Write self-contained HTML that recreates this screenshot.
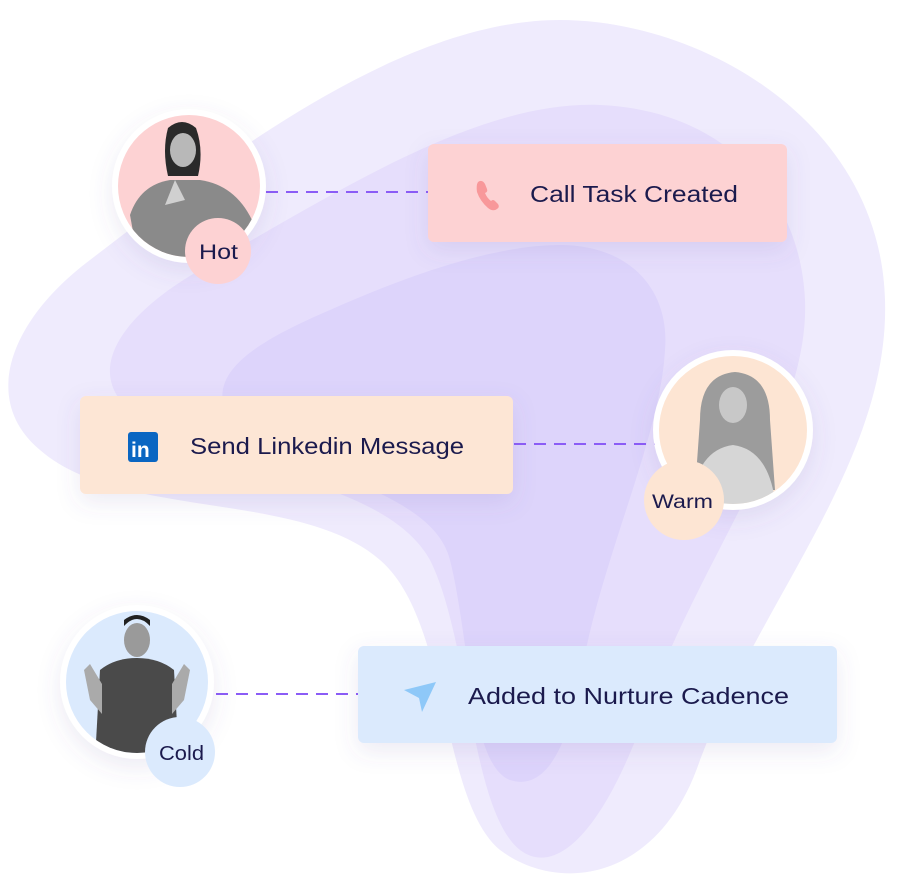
<!DOCTYPE html>
<html><head><meta charset="utf-8"><style>
html,body{margin:0;padding:0;background:#fff;width:918px;height:890px;overflow:hidden}
svg{display:block}
text{font-family:"Liberation Sans",sans-serif}
</style></head><body>
<svg width="918" height="890" viewBox="0 0 918 890" xmlns="http://www.w3.org/2000/svg">
<defs>
<filter id="sh" x="-30%" y="-50%" width="160%" height="200%"><feDropShadow dx="0" dy="8" stdDeviation="12" flood-color="#6a5aa0" flood-opacity="0.12"/></filter>
<clipPath id="c1"><circle cx="189" cy="186" r="71"/></clipPath>
<clipPath id="c2"><circle cx="733" cy="430" r="74"/></clipPath>
<clipPath id="c3"><circle cx="137" cy="682" r="71"/></clipPath>
</defs>
<path d="M560 20 C700 20 880 120 885 300 C890 460 760 600 700 760 C660 880 560 895 500 850 C440 800 450 620 380 560 C300 490 120 520 40 450 C-20 400 10 320 90 260 C220 160 400 20 560 20 Z" fill="#efebfd"/>
<path d="M600 105 C720 110 800 190 805 300 C810 420 700 560 650 700 C610 820 560 880 520 850 C470 810 470 640 430 560 C380 470 180 470 120 400 C90 360 130 310 200 270 C340 190 480 100 600 105 Z" fill="#e6defc"/>
<path d="M560 245 C630 245 670 290 665 350 C660 440 600 560 580 680 C565 760 540 790 510 780 C470 765 470 640 450 560 C430 480 260 470 225 410 C210 370 260 340 330 310 C420 270 500 245 560 245 Z" fill="#ddd4fb"/>
<g stroke="#8b5cf6" stroke-width="2" stroke-dasharray="12 8">
<line x1="266" y1="192" x2="428" y2="192"/>
<line x1="514" y1="444" x2="655" y2="444"/>
<line x1="216" y1="694" x2="358" y2="694"/>
</g>
<rect x="428" y="144" width="359" height="98" rx="6" fill="#fdd2d3" filter="url(#sh)"/>
<rect x="80" y="396" width="433" height="98" rx="6" fill="#fde6d5" filter="url(#sh)"/>
<rect x="358" y="646" width="479" height="97" rx="6" fill="#dbeafd" filter="url(#sh)"/>
<text x="530" y="202" font-size="23" fill="#1b1a4d" textLength="208" lengthAdjust="spacingAndGlyphs">Call Task Created</text>
<text x="190" y="454" font-size="23" fill="#1b1a4d" textLength="274" lengthAdjust="spacingAndGlyphs">Send Linkedin Message</text>
<text x="468" y="704" font-size="23" fill="#1b1a4d" textLength="321" lengthAdjust="spacingAndGlyphs">Added to Nurture Cadence</text>
<path d="M478 182 q4 -3 7 2 l2 5 q1 3 -2 4 q2 5 6 8 q2 -2 4 0 l3 3 q2 3 -1 5 q-4 3 -9 -1 q-8 -7 -11 -16 q-1 -7 1 -10z" fill="#f8989a"/>
<rect x="128" y="432" width="30" height="30" rx="3" fill="#0a66c2"/>
<text x="131" y="457" font-size="21" font-weight="bold" fill="#fff">in</text>
<path d="M404 690 L436 682 L422 712 L419 698 Z" fill="#8ec8f8"/>
<circle cx="189" cy="186" r="77" fill="#fff" filter="url(#sh)"/>
<circle cx="189" cy="186" r="71" fill="#fdd2d3"/>
<g clip-path="url(#c1)">
<path d="M168 128 q14 -12 28 0 q8 22 2 48 l-30 0 q-6 -26 0 -48z" fill="#2a2a2a"/>
<ellipse cx="183" cy="150" rx="13" ry="17" fill="#b8b8b8"/>
<path d="M140 270 L130 215 q10 -30 40 -35 l30 0 q35 5 52 40 l-10 30 z" fill="#8a8a8a"/>
<path d="M165 205 l10 -25 l10 20 z" fill="#d0d0d0"/>
</g>
<circle cx="218" cy="251" r="33" fill="#fdd2d3"/>
<text x="199" y="259" font-size="21" fill="#1b1a4d" textLength="39" lengthAdjust="spacingAndGlyphs">Hot</text>
<circle cx="733" cy="430" r="80" fill="#fff" filter="url(#sh)"/>
<circle cx="733" cy="430" r="74" fill="#fde5d3"/>
<g clip-path="url(#c2)">
<path d="M700 420 q0 -45 35 -48 q35 3 35 48 l5 70 l-80 0z" fill="#9c9c9c"/>
<ellipse cx="733" cy="405" rx="14" ry="18" fill="#c8c8c8"/>
<path d="M690 510 q5 -60 43 -65 q38 5 43 65z" fill="#d6d6d6"/>
</g>
<circle cx="684" cy="500" r="40" fill="#fde5d3"/>
<text x="652" y="508" font-size="19" fill="#1b1a4d" textLength="61" lengthAdjust="spacingAndGlyphs">Warm</text>
<circle cx="137" cy="682" r="77" fill="#fff" filter="url(#sh)"/>
<circle cx="137" cy="682" r="71" fill="#dbeafd"/>
<g clip-path="url(#c3)">
<ellipse cx="137" cy="640" rx="13" ry="17" fill="#9a9a9a"/>
<path d="M124 626 q13 -14 26 0 l0 -6 q-13 -10 -26 0z" fill="#222"/>
<path d="M95 760 l5 -90 q15 -12 37 -12 q22 0 37 12 l5 90z" fill="#4a4a4a"/>
<path d="M90 700 l-6 -30 l6 -6 l12 20 l0 30z" fill="#aaa"/>
<path d="M184 700 l6 -30 l-6 -6 l-12 20 l0 30z" fill="#aaa"/>
</g>
<circle cx="180" cy="752" r="35" fill="#dbeafd"/>
<text x="159" y="760" font-size="20" fill="#1b1a4d" textLength="45" lengthAdjust="spacingAndGlyphs">Cold</text>
</svg>
</body></html>
